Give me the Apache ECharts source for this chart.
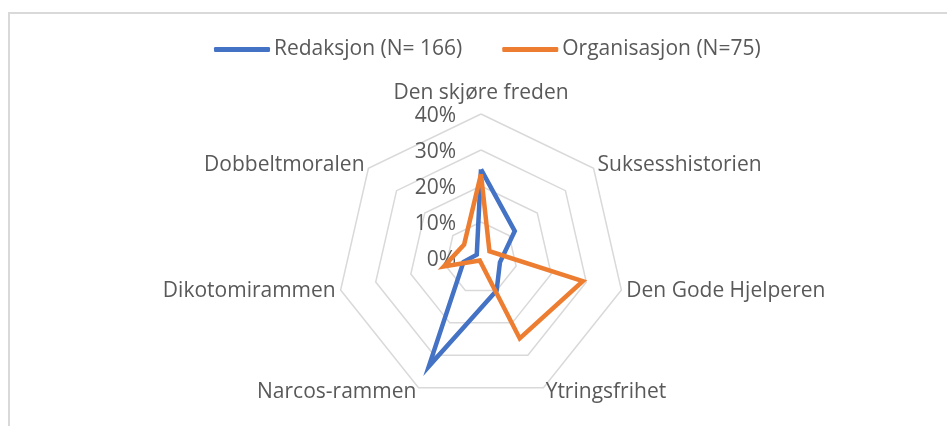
<!DOCTYPE html>
<html>
<head>
<meta charset="utf-8">
<script src="https://cdn.jsdelivr.net/npm/echarts@6/dist/echarts.min.js"></script>
<style>
  html, body { margin: 0; padding: 0; background: #fff; }
  #main { width: 947px; height: 426px; }
</style>
</head>
<body>
<div id="main"></div>
<script>
// kategorier i Excel-rekkefølge (med klokka fra toppen)
var categories = ['Den skjøre freden', 'Suksesshistorien', 'Den Gode Hjelperen', 'Ytringsfrihet',
  'Narcos-rammen', 'Dikotomirammen', 'Dobbeltmoralen'];
var seriesNames = ['Redaksjon (N= 166)', 'Organisasjon (N=75)'];
var redaksjon = [24.6, 12, 5.4, 10, 33.4, 5, 1.5];
var organisasjon = [23.3, 3, 29, 24.8, 0.8, 10.6, 6];
var tickLabels = ['0%', '10%', '20%', '30%', '40%'];
var axisMax = 40;

// echarts legger aksene mot klokka, så vi snur rekkefølgen etter første
function order(arr) {
  return [arr[0]].concat(arr.slice(1).reverse());
}

var txt = '#595959';
var font = 'Open Sans';

var indicators = order(categories).map(function (name, i) {
  var ind = { name: name, min: 0, max: axisMax };
  if (i === 0) {
    ind.axisLabel = { show: true };
    ind.nameGap = 10;
  }
  return ind;
});

var myChart = echarts.init(document.getElementById('main'));
var option = {
  animation: false,
  color: ['#4472c4', '#ed7d31'],
  graphic: [{
    type: 'rect',
    shape: { x: 9, y: 13, width: 960, height: 440 },
    style: { fill: 'none', stroke: '#d9d9d9', lineWidth: 2 },
    silent: true
  }],
  legend: {
    left: 209,
    top: 34,
    itemWidth: 56,
    itemHeight: 5,
    itemGap: 40,
    icon: 'roundRect',
    textStyle: { color: txt, fontSize: 21, fontFamily: font, padding: [0, 0, 0, -1] },
    data: seriesNames
  },
  radar: {
    center: [481, 258],
    radius: 144,
    startAngle: 90,
    shape: 'polygon',
    splitNumber: 4,
    nameGap: 5,
    axisName: { color: txt, fontSize: 21, fontFamily: font },
    axisLine: { show: false },
    axisTick: { show: false },
    axisLabel: {
      show: false,
      margin: 25,
      color: txt,
      fontSize: 21,
      fontFamily: font,
      verticalAlign: 'top',
      lineHeight: 21,
      padding: [-8, 0, 0, 0],
      formatter: function (v) { return tickLabels[Math.round(v / 10)]; }
    },
    splitLine: { lineStyle: { color: '#d9d9d9', width: 1.5 } },
    splitArea: { show: false },
    indicator: indicators
  },
  series: [{
    type: 'radar',
    symbol: 'none',
    lineStyle: { width: 4.5, join: 'miter' },
    data: [
      { name: seriesNames[0], value: order(redaksjon) },
      { name: seriesNames[1], value: order(organisasjon) }
    ]
  }]
};
myChart.setOption(option);
</script>
</body>
</html>
